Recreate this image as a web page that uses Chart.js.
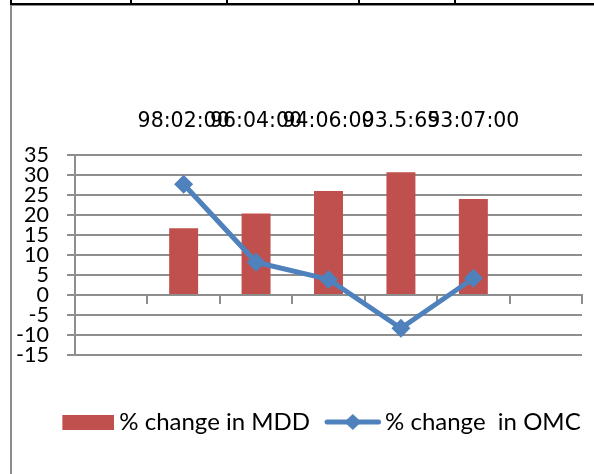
<!DOCTYPE html>
<html>
<head>
<meta charset="utf-8">
<script src="https://cdn.jsdelivr.net/npm/chart.js@4/dist/chart.umd.min.js"></script>
<style>
  html, body { margin: 0; padding: 0; background: #fff; }
  #wrap { position: relative; width: 594px; height: 474px; overflow: hidden; background: #fff; }
  #chart { position: absolute; left: 0; top: 0; }
  .rule { position: absolute; background: #000; }
  .frame {
    position: absolute; left: 10px; top: 5px; width: 584px; height: 469px;
    border-left: 2px solid #8c8c8c; border-top: 1px solid #8c8c8c; box-sizing: border-box;
  }
</style>
</head>
<body>
<div id="wrap">
  <!-- table rule above the chart frame -->
  <div class="rule" style="left:10px;top:3px;width:584px;height:2px"></div>
  <div class="rule" style="left:10px;top:0;width:2px;height:5px"></div>
  <div class="rule" style="left:130px;top:0;width:2px;height:5px"></div>
  <div class="rule" style="left:226px;top:0;width:2px;height:5px"></div>
  <div class="rule" style="left:358px;top:0;width:2px;height:5px"></div>
  <div class="rule" style="left:454px;top:0;width:2px;height:5px"></div>
  <div class="frame"></div>
  <canvas id="chart" width="594" height="474"></canvas>
</div>
<script>
// Periods and percentage changes
const periods   = ['98:02:00', '96:04:00', '94:06:00', '93.5:69', '53:07:00'];
const mddChange = [16.7, 20.4, 26.0, 30.7, 24.0];
const omcChange = [27.7, 8.2, 3.9, -8.3, 4.2];
const seriesNames = ['% change in MDD', '% change  in OMC'];
const yTickValues = [-15, -10, -5, 0, 5, 10, 15, 20, 25, 30, 35];

// One empty slot on each side of the periods
const slots = ['', ...periods, ''];
const padded = arr => [null, ...arr, null];

const MDD_COLOR = '#C0504D';
const OMC_COLOR = '#4F81BD';
const GRID = '#8e8e8e';

// Legend symbols
function swatch(w, h, draw) {
  const c = document.createElement('canvas');
  c.width = w; c.height = h;
  draw(c.getContext('2d'));
  return c;
}
const mddSwatch = swatch(70, 15, ctx => {
  ctx.fillStyle = MDD_COLOR;
  ctx.fillRect(18, 0, 52, 15);
});
const omcSwatch = swatch(72, 20, ctx => {
  ctx.strokeStyle = OMC_COLOR;
  ctx.lineWidth = 5;
  ctx.lineCap = 'round';
  ctx.beginPath();
  ctx.moveTo(18, 10);
  ctx.lineTo(69.5, 10);
  ctx.stroke();
  const cx = 43.75;
  ctx.fillStyle = OMC_COLOR;
  ctx.beginPath();
  ctx.moveTo(cx, 2); ctx.lineTo(cx + 8.5, 10); ctx.lineTo(cx, 18); ctx.lineTo(cx - 8.5, 10);
  ctx.closePath();
  ctx.fill();
});
const swatches = [mddSwatch, omcSwatch];

// Moves the legend row a little to the right of centre
const legendShift = {
  id: 'legendShift',
  afterLayout(chart) {
    const dx = 25;
    chart.legend.left += dx;
    chart.legend.right += dx;
  }
};

Chart.defaults.font.family = 'Lato';
Chart.defaults.color = '#000';

new Chart(document.getElementById('chart'), {
  type: 'bar',
  data: {
    labels: slots,
    datasets: [
      {
        type: 'bar',
        label: seriesNames[0],
        data: padded(mddChange),
        backgroundColor: MDD_COLOR,
        barPercentage: 0.4,
        categoryPercentage: 1.0,
        order: 1
      },
      {
        type: 'line',
        label: seriesNames[1],
        data: padded(omcChange),
        borderColor: OMC_COLOR,
        backgroundColor: OMC_COLOR,
        borderWidth: 5,
        tension: 0,
        borderJoinStyle: 'round',
        borderCapStyle: 'round',
        pointStyle: 'rectRot',
        pointRadius: 9.5,
        pointBorderWidth: 0,
        pointBackgroundColor: OMC_COLOR,
        order: 0
      }
    ]
  },
  plugins: [legendShift],
  options: {
    responsive: false,
    animation: false,
    devicePixelRatio: 1,
    layout: { padding: { left: 0, right: 12, top: 0, bottom: 30 } },
    plugins: {
      tooltip: { enabled: false },
      legend: {
        position: 'bottom',
        labels: {
          usePointStyle: true,
          pointStyleWidth: 56,
          padding: 7,
          color: '#000',
          font: { family: 'Lato', size: 24 },
          generateLabels: chart => chart.data.datasets.map((ds, i) => ({
            text: ds.label,
            pointStyle: swatches[i],
            fillStyle: i === 0 ? MDD_COLOR : OMC_COLOR,
            strokeStyle: i === 0 ? MDD_COLOR : OMC_COLOR,
            lineWidth: 0,
            hidden: false,
            datasetIndex: i
          }))
        }
      }
    },
    scales: {
      x: {
        type: 'category',
        position: { y: 0 },
        offset: true,
        grid: {
          offset: true,
          drawOnChartArea: false,
          drawTicks: true,
          tickLength: 8,
          color: GRID,
          lineWidth: 2
        },
        border: { display: true, color: GRID, width: 2 },
        ticks: { display: false }
      },
      xTop: {
        type: 'category',
        position: 'top',
        labels: slots,
        offset: true,
        grid: { display: false, drawTicks: false },
        border: { display: false },
        ticks: {
          autoSkip: false,
          maxRotation: 0,
          minRotation: 0,
          padding: 21,
          color: '#000',
          font: { family: 'DejaVu Sans', size: 20.5 }
        },
        afterFit: s => { s.height = 155; }
      },
      xGap: {
        type: 'category',
        position: 'bottom',
        labels: slots,
        grid: { display: false, drawTicks: false },
        border: { display: false },
        ticks: { display: false },
        afterFit: s => { s.height = 48; }
      },
      y: {
        type: 'linear',
        position: 'left',
        min: yTickValues[0],
        max: yTickValues[yTickValues.length - 1],
        ticks: {
          stepSize: yTickValues[1] - yTickValues[0],
          autoSkip: false,
          padding: 18,
          color: '#000',
          font: { family: 'Lato', size: 21.5 }
        },
        grid: { color: GRID, lineWidth: 2, tickLength: 8, drawTicks: true },
        border: { display: true, color: GRID, width: 2 },
        afterFit: s => { s.width = 75; }
      }
    }
  }
});
</script>
</body>
</html>
